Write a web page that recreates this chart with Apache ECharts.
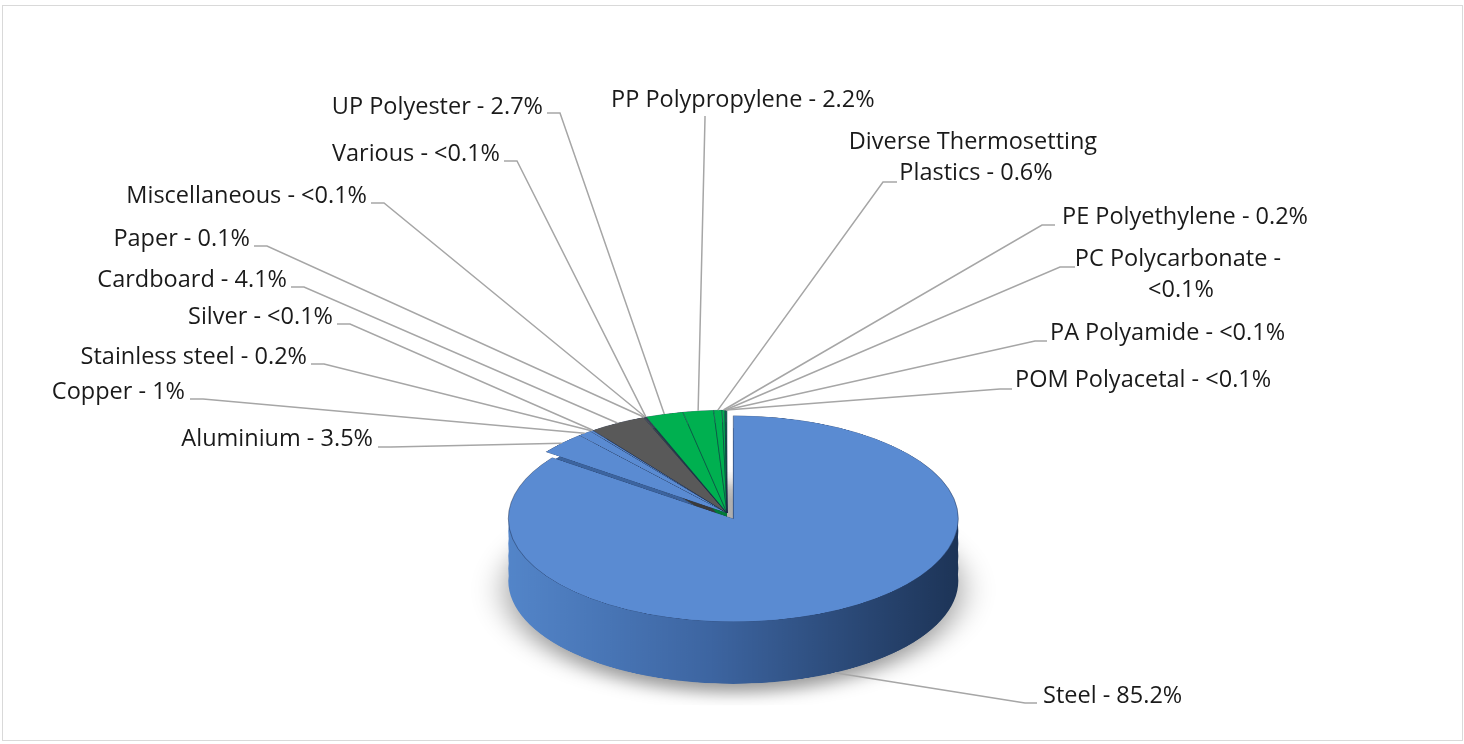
<!DOCTYPE html>
<html><head><meta charset="utf-8">
<script src="https://cdn.jsdelivr.net/npm/echarts@6/dist/echarts.min.js"></script>
<style>
html,body{margin:0;padding:0;background:#fff;width:1464px;height:744px;overflow:hidden;position:relative;}
#frame{position:absolute;left:2px;top:5px;width:1461px;height:736px;border:1px solid #d9d9d9;box-sizing:border-box;}
#pie{position:absolute;left:0;top:93px;width:1464px;height:840px;transform:scaleY(0.4578);transform-origin:50% 50%;}
#labels{position:absolute;left:0;top:0;width:1464px;height:744px;}
</style></head><body>
<div id="frame"></div><div id="pie"></div><div id="labels"></div>
<script>
// ---- data (clockwise from 12 o'clock) ----
const categories = ['Steel','Aluminium','Copper','Stainless steel','Silver','Cardboard','Paper','Miscellaneous','Various','UP Polyester','PP Polypropylene','Diverse Thermosetting Plastics','PE Polyethylene','PC Polycarbonate','PA Polyamide','POM Polyacetal'];
const values = [85.2, 3.5, 1.0, 0.2, 0.05, 4.1, 0.1, 0.05, 0.05, 2.7, 2.2, 0.6, 0.2, 0.05, 0.05, 0.05];
const valueLabels = ['85.2%','3.5%','1%','0.2%','<0.1%','4.1%','0.1%','<0.1%','<0.1%','2.7%','2.2%','0.6%','0.2%','<0.1%','<0.1%','<0.1%'];
const materialGroup = ['Metal','Metal','Metal','Metal','Metal','Paper','Paper','Paper','Paper','Plastic','Plastic','Plastic','Plastic','Plastic','Plastic','Plastic'];
const explodedCategory = 'Steel';

// ---- styling / layout ----
const topColor = {Metal:'#5a8bd2', Paper:'#595959', Plastic:'#00b050'};
const sideColor = {Metal:'#3c649f', Paper:'#3a3a3a', Plastic:'#007a38'};
const FONT = 'Open Sans';
const FS = 23.5;
const CX = 727, CY = 513, R = 225, K = 0.4578, T = 62, EXPLODE = 14;
const PIE_CY = 420; // centre inside the stretched pie canvas
const SIDE_DEPTH = T / K;

// label anchor, alignment, and connector bend/end points
const labelPos = [
  {x:1043, y:696, align:'left',  bend:[1025,703], end:[1037,703]},
  {x:373,  y:439, align:'right', bend:[391,447],  end:[378,447]},
  {x:185,  y:392, align:'right', bend:[203,399],  end:[190,399]},
  {x:307,  y:357, align:'right', bend:[324,364],  end:[311,364]},
  {x:333,  y:317, align:'right', bend:[350,324],  end:[337,324]},
  {x:287,  y:280, align:'right', bend:[304,287],  end:[291,287]},
  {x:250,  y:239, align:'right', bend:[267,246],  end:[254,246]},
  {x:367,  y:196, align:'right', bend:[384,203],  end:[371,203]},
  {x:500,  y:154, align:'right', bend:[517,161],  end:[504,161]},
  {x:543,  y:107, align:'right', bend:[560,113],  end:[547,113]},
  {x:611,  y:100, align:'left',  bend:[705,118],  end:[705,116]},
  {x:976,  y:158, align:'center',bend:[883,182],  end:[897,182], wrap:268},
  {x:1062, y:217, align:'left',  bend:[1042,225], end:[1055,225]},
  {x:1181, y:275, align:'center',bend:[1060,267], end:[1075,267], wrap:230},
  {x:1050, y:333, align:'left',  bend:[1035,341], end:[1047,341]},
  {x:1015, y:380, align:'left',  bend:[1000,389], end:[1012,389]}
];

const steelSide = new echarts.graphic.LinearGradient(0,0,1,0,[
  {offset:0, color:'#5385c9'},{offset:0.45, color:'#3d65a1'},{offset:1, color:'#1d3457'}]);

function pieData(side) {
  return categories.map((c, j) => ({
    name: c, value: values[j], selected: c === explodedCategory,
    itemStyle: {color: side ? (c === explodedCategory ? steelSide : sideColor[materialGroup[j]]) : topColor[materialGroup[j]]}
  }));
}

const pieChart = echarts.init(document.getElementById('pie'), null, {renderer:'canvas'});
const series = [];
const LAYERS = 5;
for (let i = LAYERS; i >= 1; i--) {
  const st = i === LAYERS ? {borderWidth:0, shadowBlur:34, shadowColor:'rgba(0,0,0,0.4)', shadowOffsetY:20} : {borderWidth:0};
  series.push({
    type:'pie', center:[CX, PIE_CY + SIDE_DEPTH * i / LAYERS], radius:R, startAngle:90, clockwise:true,
    selectedMode:'multiple', selectedOffset:EXPLODE, silent:true, animation:false,
    label:{show:false}, labelLine:{show:false}, emphasis:{disabled:true},
    itemStyle: st, select:{itemStyle: st},
    data: pieData(true)
  });
}
const topStyle = {borderWidth:1, borderColor:'rgba(25,40,70,0.45)'};
series.push({
  type:'pie', center:[CX, PIE_CY], radius:R, startAngle:90, clockwise:true,
  selectedMode:'multiple', selectedOffset:EXPLODE, silent:true, animation:false,
  label:{show:false}, labelLine:{show:false}, emphasis:{disabled:true},
  itemStyle: topStyle, select:{itemStyle: topStyle},
  data: pieData(false)
});
pieChart.setOption({animation:false, series});

function layoutLabel(p) {
  const i = p.dataIndex;
  const L = labelPos[i];
  const res = {x:L.x, y:L.y, align:L.align, verticalAlign:'middle'};
  const pts = p.labelLinePoints;
  if (!pts) return res;
  const dx = pts[0][0] - CX, dy = pts[0][1] - CY;
  const len = Math.hypot(dx, dy) || 1;
  let ax = CX + dx, ay = CY + dy * K;
  if (categories[i] === explodedCategory) { ax += EXPLODE * dx / len; ay += EXPLODE * dy / len * K; }
  if (dy > 0) ay += T;
  res.labelLinePoints = [[ax, ay], L.bend.slice(), L.end.slice()];
  return res;
}

const labelChart = echarts.init(document.getElementById('labels'), null, {renderer:'canvas'});
labelChart.setOption({
  animation:false,
  series:[{
    type:'pie', center:[CX, CY], radius:R, startAngle:90, clockwise:true,
    avoidLabelOverlap:false, silent:true, emphasis:{disabled:true},
    itemStyle:{color:'rgba(0,0,0,0)', borderWidth:0},
    label:{show:true, position:'outside', color:'#1a1a1a', fontFamily:FONT, fontSize:FS, lineHeight:31,
      formatter: p => categories[p.dataIndex] + ' - ' + valueLabels[p.dataIndex]},
    labelLine:{show:true, length:10, length2:10, smooth:false, lineStyle:{color:'#a6a6a6', width:1.5}},
    labelLayout: layoutLabel,
    data: categories.map((c, j) => {
      const d = {name:c, value:values[j]};
      if (labelPos[j].wrap) d.label = {width:labelPos[j].wrap, overflow:'break', align:'center'};
      return d;
    })
  }]
});
</script>
</body></html>
